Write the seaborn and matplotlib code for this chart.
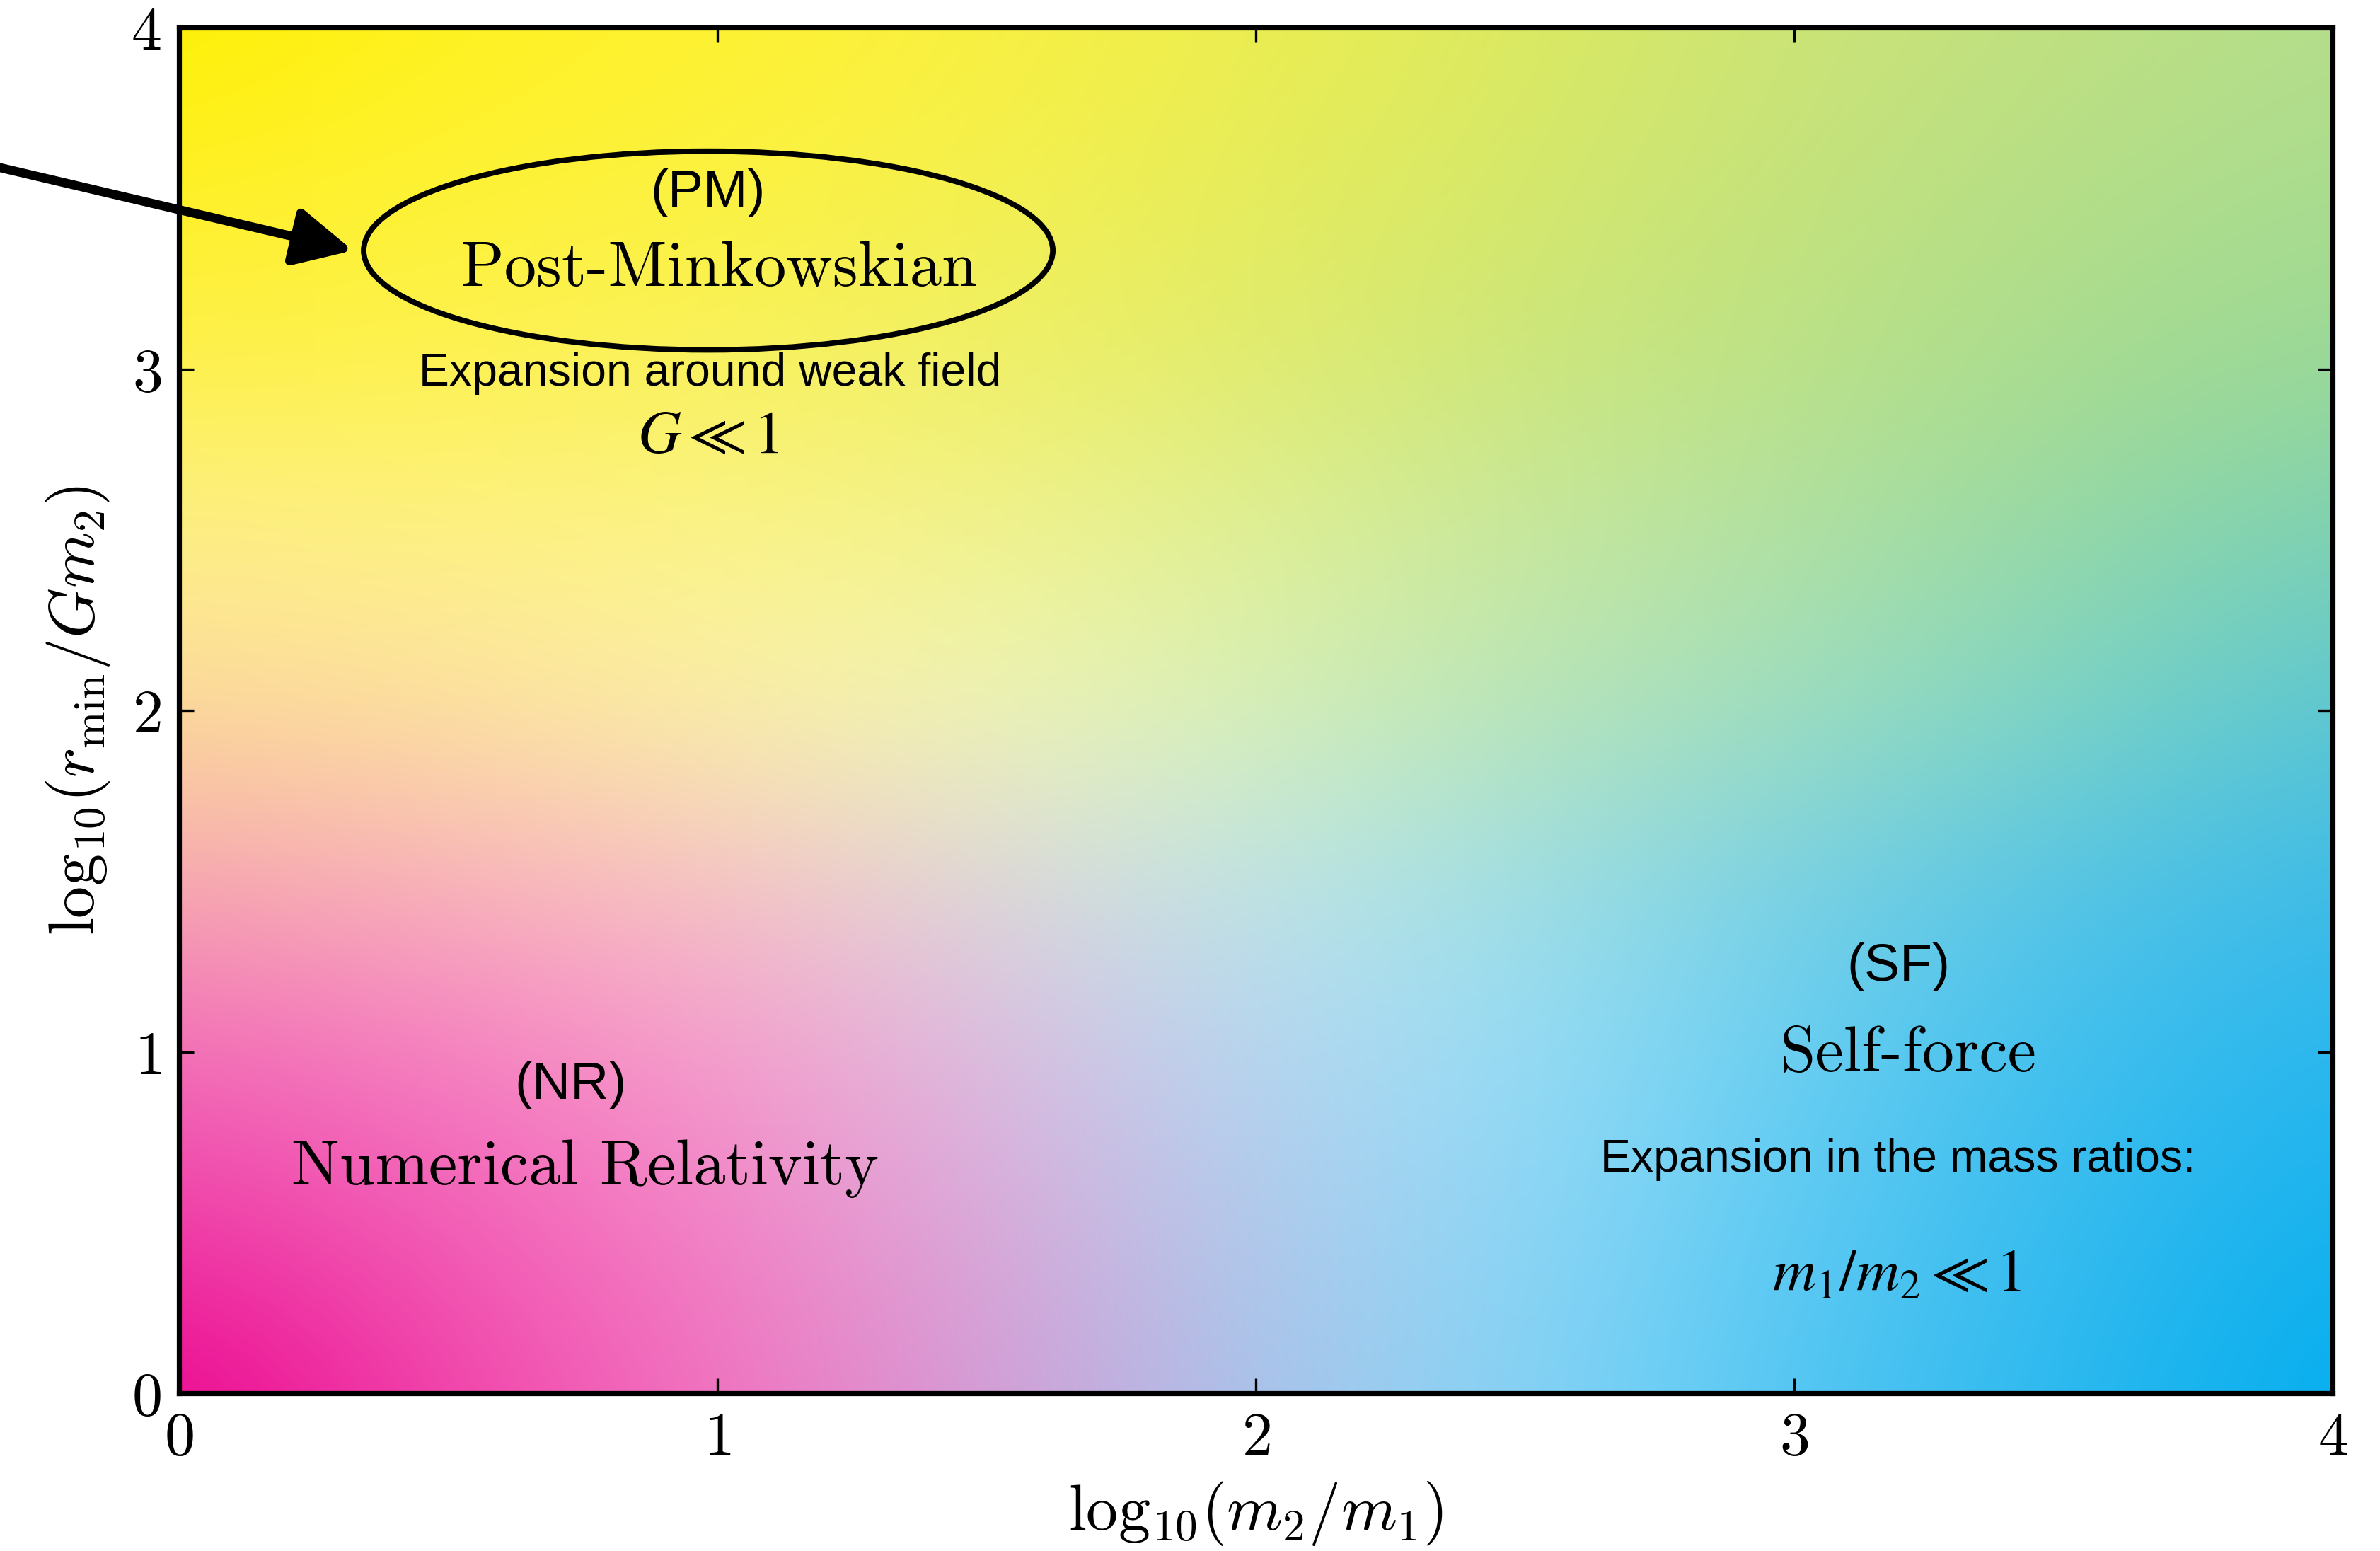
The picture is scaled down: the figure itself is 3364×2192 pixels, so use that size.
import numpy as np
import matplotlib
matplotlib.use("Agg")
import matplotlib.pyplot as plt
from matplotlib.patches import Ellipse
from matplotlib.colors import to_rgb
import seaborn as sns

# ---------------- data ----------------
x_ticks = [0, 1, 2, 3, 4]
y_ticks = [0, 1, 2, 3, 4]
grid_x = [0, 0.5, 1, 1.5, 2, 2.5, 3, 3.5, 4]
grid_y = [0, 0.5, 1, 1.5, 2, 2.5, 3, 3.5, 4]
# background colour mesh (rows: y from 0 to 4, columns: x from 0 to 4)
row_y00 = ["#EC008C", "#F043AA", "#F472BE", "#D49CD6", "#A8C4EA", "#86D6F6", "#52C6F3", "#2CB8EE", "#00AEEF"]
row_y05 = ["#EF3AA6", "#F25EB6", "#F682C6", "#DCAAD8", "#B0CCEC", "#8ED8F6", "#5CCAF3", "#36BBEE", "#14B1EF"]
row_y10 = ["#F26CB8", "#F57EC2", "#F89CCC", "#DEBCE0", "#B4D8F2", "#98DEF6", "#68CEF2", "#40C0EE", "#28B6EE"]
row_y15 = ["#F6A8B0", "#F8B4BC", "#F8C4C4", "#DCD8DC", "#BEE6E8", "#A0DEE4", "#78D0E4", "#56C4E6", "#3CBAE8"]
row_y20 = ["#FCD89A", "#FDE0A0", "#FBF0A8", "#F0F6B8", "#D8F0B8", "#B8E4B8", "#A0DEC0", "#7CD4C4", "#5AC6D4"]
row_y25 = ["#FEF08E", "#FEF288", "#FCF48C", "#F2F290", "#E0F098", "#C8E8A0", "#B0E0A4", "#94D8A8", "#7AD0B6"]
row_y30 = ["#FEF04C", "#FEF250", "#F9F160", "#F0F068", "#E0EC70", "#CCE67C", "#BCE288", "#A8DC90", "#98D898"]
row_y35 = ["#FEF028", "#FEF238", "#FCF240", "#F4F050", "#E6EC5C", "#D4E86C", "#C4E27C", "#B4DE88", "#A8DC90"]
row_y40 = ["#FFF000", "#FFF220", "#FFF230", "#FAF040", "#ECEE50", "#DCEA60", "#CCE478", "#C0E080", "#B4DE8C"]
color_rows = [row_y00, row_y05, row_y10, row_y15, row_y20, row_y25, row_y30, row_y35, row_y40]

# annotations: (text, x, y)
region_tags = [("(PM)", 0.983, 3.516), ("(NR)", 0.728, 0.902), ("(SF)", 3.193, 1.249)]
region_names = [("Post-Minkowskian", 1.003, 3.29), ("Numerical Relativity", 0.754, 0.658),
                ("Self-force", 3.212, 0.991)]
region_notes = [("Expansion around weak field", 0.986, 2.987), ("Expansion in the mass ratios:", 3.193, 0.684)]
region_formulas = [(r"$G \ll 1$", 0.983, 2.80), (r"$m_1/m_2 \ll 1$", 3.19, 0.347)]
ellipse_center = (0.983, 3.347)
ellipse_size = (1.28, 0.582)
arrow_tail = (-0.40, 3.615)
arrow_head = (0.323, 3.347)

# ---------------- style ----------------
sns.set_style("ticks")
plt.rcParams["mathtext.fontset"] = "cm"
plt.rcParams["font.family"] = ["Liberation Sans", "DejaVu Sans"]
for key in ["text.color", "axes.labelcolor", "xtick.color", "ytick.color",
            "xtick.labelcolor", "ytick.labelcolor", "axes.edgecolor"]:
    plt.rcParams[key] = "black"

fig = plt.figure(figsize=(16.82, 10.96), dpi=200)
ax = fig.add_axes([0.0752, 0.1017, 0.9049, 0.8805])

rgb = np.array([[to_rgb(c) for c in row] for row in color_rows])
dx = grid_x[1] - grid_x[0]
dy = grid_y[1] - grid_y[0]
ax.imshow(rgb, origin="lower", interpolation="bicubic", aspect="auto",
          extent=[grid_x[0] - dx / 2, grid_x[-1] + dx / 2, grid_y[0] - dy / 2, grid_y[-1] + dy / 2])
ax.set_xlim(0, 4)
ax.set_ylim(0, 4)

ax.set_xticks(x_ticks, labels=[f"${t}$" for t in x_ticks])
ax.set_yticks(y_ticks, labels=[f"${t}$" for t in y_ticks])
ax.tick_params(direction="in", top=True, right=True, length=7.5, width=1.2,
               labelsize=31, pad=9, color="black", labelcolor="black")
for sp in ax.spines.values():
    sp.set_linewidth(2.6)
    sp.set_color("black")

ax.set_xlabel(r"$\mathrm{log}_{10}(m_2/m_1)$", fontsize=32.5, labelpad=6, color="black")
ax.set_ylabel(r"$\mathrm{log}_{10}(r_{\rm min}/Gm_2)$", fontsize=32.5, labelpad=10, color="black")

for t, x, y in region_tags:
    ax.text(x, y, t, fontsize=27, ha="center", va="center", color="black",
            family=["Liberation Sans", "DejaVu Sans"])
for t, x, y in region_names:
    ax.text(x, y, t, fontsize=32.7, ha="center", va="center", color="black", family="cmr10")
for t, x, y in region_notes:
    ax.text(x, y, t, fontsize=23.2, ha="center", va="center", color="black",
            family=["Liberation Sans", "DejaVu Sans"])
for t, x, y in region_formulas:
    ax.text(x, y, t, fontsize=30.5, ha="center", va="center", color="black", math_fontfamily="stix")

ax.add_patch(Ellipse(ellipse_center, ellipse_size[0], ellipse_size[1], fill=False,
                     lw=2.8, edgecolor="black", zorder=5))
ax.annotate("", xy=arrow_head, xytext=arrow_tail, annotation_clip=False,
            arrowprops=dict(arrowstyle="-|>,head_length=0.5,head_width=0.25",
                            mutation_scale=50, lw=4.6, color="black",
                            shrinkA=0, shrinkB=0))

fig.savefig("out.png", dpi=200)
